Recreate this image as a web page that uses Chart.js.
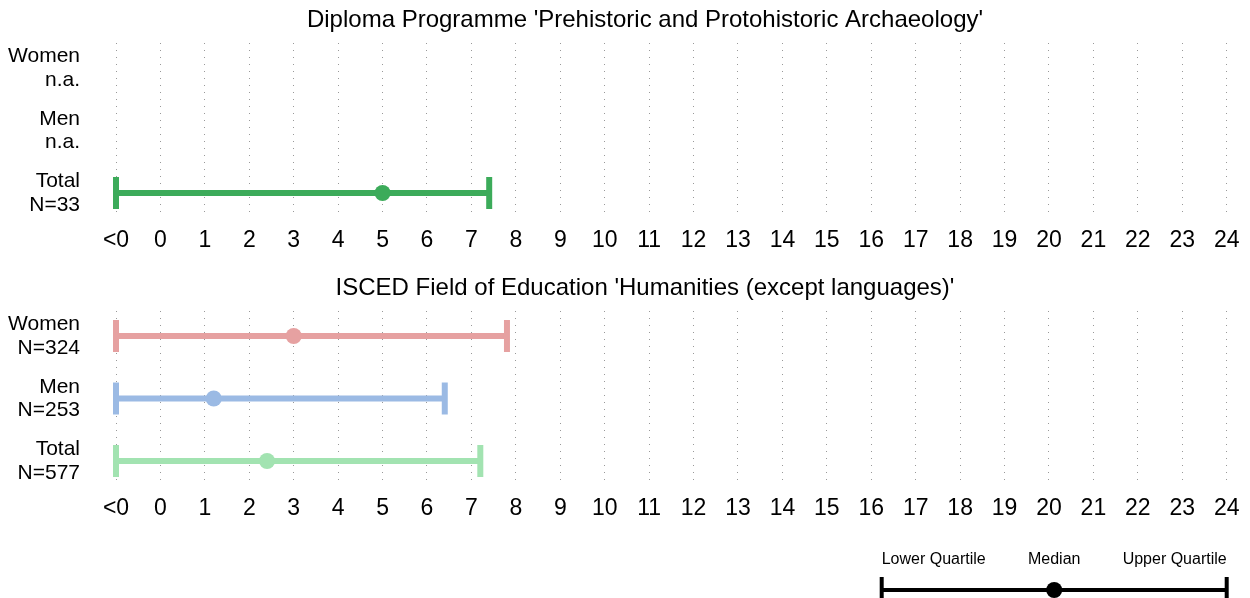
<!DOCTYPE html>
<html>
<head>
<meta charset="utf-8">
<script src="https://cdn.jsdelivr.net/npm/chart.js@4.4.0/dist/chart.umd.min.js"></script>
<style>
  body { margin: 0; background: #fff; width: 1250px; height: 598px; overflow: hidden; position: relative; }
  canvas { position: absolute; left: 0; }
</style>
</head>
<body>
<canvas id="panel1" width="1290" height="262" style="top:0"></canvas>
<canvas id="panel2" width="1290" height="262" style="top:268px"></canvas>
<canvas id="key" width="1250" height="68" style="top:530px"></canvas>
<script>
"use strict";

// rows (top to bottom) and x axis ticks, "<0" sits at -1
const groups = ['Women', 'Men', 'Total'];
const xTickLabels = ['<0', '0', '1', '2', '3', '4', '5', '6', '7', '8', '9', '10', '11', '12',
                     '13', '14', '15', '16', '17', '18', '19', '20', '21', '22', '23', '24'];

// panel 1 - diploma programme
const diplomaTitle = "Diploma Programme 'Prehistoric and Protohistoric Archaeology'";
const diplomaCounts = ['n.a.', 'n.a.', 'N=33'];
const diplomaLower = [null, null, -1];
const diplomaMedian = [null, null, 5];
const diplomaUpper = [null, null, 7.4];

// panel 2 - ISCED field
const iscedTitle = "ISCED Field of Education 'Humanities (except languages)'";
const iscedCounts = ['N=324', 'N=253', 'N=577'];
const iscedLower = [-1, -1, -1];
const iscedMedian = [3, 1.2, 2.4];
const iscedUpper = [7.8, 6.4, 7.2];

// key at the bottom
const keyLabels = ['Lower Quartile', 'Median', 'Upper Quartile'];
const keyValues = [0, 0.5, 1];

const diplomaColors = ['#3cab5a', '#3cab5a', '#3cab5a'];
const iscedColors = ['#e6a1a1', '#9bbae4', '#a2e3b1'];

const FONT = 'Arial, "Liberation Sans", Helvetica, sans-serif';
Chart.defaults.font.family = FONT;
Chart.defaults.color = '#000';

// the layout should not grow margins for the labels, we place them ourselves
function noPad(s) {
    s.paddingTop = 0;
    s.paddingBottom = 0;
    s.paddingLeft = 0;
    s.paddingRight = 0;
}

// one line with caps + one dot for each row that has data
function rowDatasets(lower, median, upper, colors) {
    const sets = [];
    groups.forEach((g, i) => {
        if (median[i] === null) return;
        sets.push({
            data: [{x: lower[i], y: i}, {x: upper[i], y: i}],
            showLine: true,
            borderColor: colors[i],
            backgroundColor: colors[i],
            borderWidth: 6,
            pointStyle: 'line',
            rotation: 90,
            pointRadius: 16,
            pointBorderWidth: 6,
            pointBorderColor: colors[i],
            clip: false,
            order: 1
        });
        sets.push({
            data: [{x: median[i], y: i}],
            pointStyle: 'circle',
            pointRadius: 8,
            pointBorderWidth: 0,
            backgroundColor: colors[i],
            borderColor: colors[i],
            clip: false,
            order: 0
        });
    });
    return sets;
}

function panel(id, title, counts, lower, median, upper, colors) {
    return new Chart(document.querySelector(id), {
        type: 'scatter',
        data: { datasets: rowDatasets(lower, median, upper, colors) },
        options: {
            responsive: false,
            animation: false,
            events: [],
            layout: { padding: 0, autoPadding: false },
            plugins: {
                legend: { display: false },
                tooltip: { enabled: false },
                title: {
                    display: true,
                    text: title,
                    color: '#000',
                    font: { size: 24, weight: 'normal' },
                    padding: { top: 6, bottom: 8.2 }
                }
            },
            scales: {
                x: {
                    type: 'linear',
                    min: -1,
                    max: 24,
                    afterBuildTicks: s => { s.ticks = xTickLabels.map((_, i) => ({ value: i - 1 })); },
                    afterFit: s => { s.height = 44; noPad(s); },
                    grid: { color: '#999', lineWidth: 1, drawTicks: false },
                    border: { display: false, dash: [1, 6] },
                    ticks: {
                        padding: 9,
                        autoSkip: false,
                        maxRotation: 0,
                        font: { size: 23 },
                        callback: v => xTickLabels[v + 1]
                    }
                },
                y: {
                    type: 'linear',
                    reverse: true,
                    min: -0.4,
                    max: 2.4,
                    afterBuildTicks: s => { s.ticks = groups.map((_, i) => ({ value: i })); },
                    afterFit: s => { s.width = 116; noPad(s); },
                    grid: { display: false, drawTicks: false },
                    border: { display: false },
                    ticks: {
                        padding: 36,
                        font: { size: 21, lineHeight: 1.12 },
                        callback: v => [groups[v], counts[v]]
                    }
                },
                // empty box on the right so the title centres like the original
                spacer: {
                    type: 'linear',
                    position: 'right',
                    min: 0,
                    max: 1,
                    afterFit: s => { s.width = 63.3; noPad(s); },
                    grid: { display: false, drawTicks: false },
                    border: { display: false },
                    ticks: { display: false }
                }
            }
        }
    });
}

panel('#panel1', diplomaTitle, diplomaCounts, diplomaLower, diplomaMedian, diplomaUpper, diplomaColors);
panel('#panel2', iscedTitle, iscedCounts, iscedLower, iscedMedian, iscedUpper, iscedColors);

// key: black quartile line with the median dot
new Chart(document.querySelector('#key'), {
    type: 'scatter',
    data: {
        datasets: [{
            data: [{x: keyValues[0], y: 0}, {x: keyValues[2], y: 0}],
            showLine: true,
            borderColor: '#000',
            backgroundColor: '#000',
            borderWidth: 4,
            pointStyle: 'line',
            rotation: 90,
            pointRadius: 13,
            pointBorderWidth: 4,
            pointBorderColor: '#000',
            clip: false,
            order: 1
        }, {
            data: [{x: keyValues[1], y: 0}],
            pointRadius: 8,
            pointBorderWidth: 0,
            backgroundColor: '#000',
            clip: false,
            order: 0
        }]
    },
    options: {
        responsive: false,
        animation: false,
        events: [],
        layout: { padding: { left: 881.7, right: 23.3, top: 0, bottom: 0 }, autoPadding: false },
        plugins: { legend: { display: false }, tooltip: { enabled: false } },
        scales: {
            x: {
                type: 'linear',
                position: 'top',
                min: 0,
                max: 1,
                afterBuildTicks: s => { s.ticks = keyValues.map(v => ({ value: v })); },
                afterFit: s => { s.height = 46; noPad(s); },
                grid: { display: false, drawTicks: false },
                border: { display: false },
                ticks: {
                    padding: 7,
                    align: 'inner',
                    maxRotation: 0,
                    autoSkip: false,
                    font: { size: 16 },
                    callback: (v, i) => keyLabels[i]
                }
            },
            y: { display: false, min: -8, max: 14, afterFit: noPad }
        }
    }
});
</script>
</body>
</html>
